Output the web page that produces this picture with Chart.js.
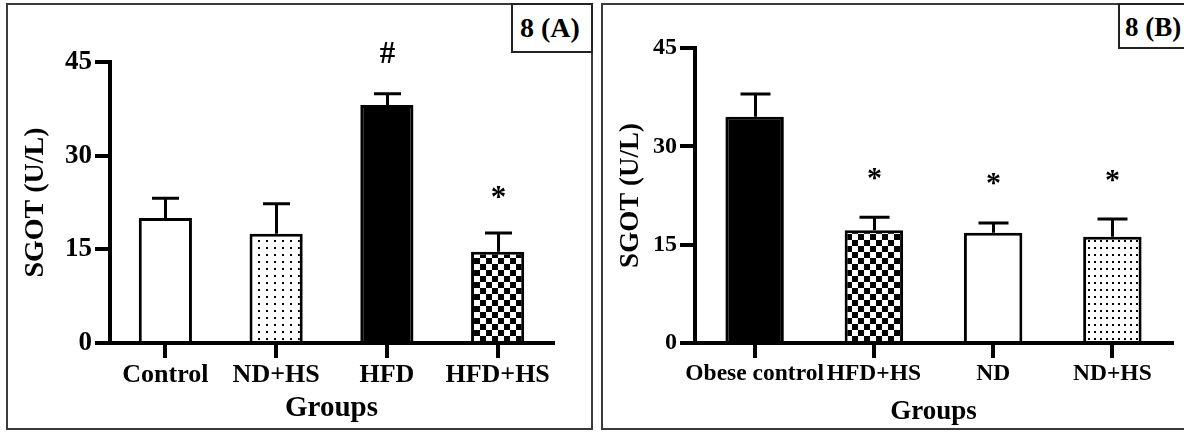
<!DOCTYPE html>
<html>
<head>
<meta charset="utf-8">
<script src="https://cdn.jsdelivr.net/npm/chart.js@4.4.0/dist/chart.umd.min.js"></script>
<style>
body{margin:0;background:#fff;width:1184px;height:433px;overflow:hidden;position:relative;font-family:"Liberation Serif",serif;}
canvas{position:absolute;top:0;}
#chartA{left:0;}
#chartB{left:600px;}
.frame{position:absolute;border:2px solid #3a3a3a;box-sizing:border-box;pointer-events:none;}
.tag{position:absolute;border:2px solid #222;background:#fff;box-sizing:border-box;font-weight:bold;white-space:nowrap;color:#000;}
</style>
</head>
<body>
<canvas id="chartA" width="600" height="433"></canvas>
<canvas id="chartB" width="584" height="433"></canvas>
<div class="frame" style="left:6px;top:3px;width:587px;height:427px"></div>
<div class="frame" style="left:601px;top:3px;width:600px;height:427px"></div>
<div class="tag" style="left:511px;top:3px;width:82px;height:50px;font-size:28px;line-height:46px;padding-left:7px">8 (A)</div>
<div class="tag" style="left:1118px;top:3px;width:90px;height:46px;font-size:27px;line-height:44px;padding-left:5px">8 (B)</div>
<script>
// panel A
var labelsA = ['Control', 'ND+HS', 'HFD', 'HFD+HS'];
var meanA = [20.0, 17.5, 38.1, 14.6];
var semA = [3.2, 4.8, 1.8, 3.0];
var marksA = ['', '', '#', '*'];

// panel B
var labelsB = ['Obese control', 'HFD+HS', 'ND', 'ND+HS'];
var meanB = [34.5, 17.2, 16.8, 16.2];
var semB = [3.5, 2.0, 1.5, 2.7];
var marksB = ['', '*', '*', '*'];

var yTicks = [0, 15, 30, 45];

var FONT = '"Liberation Serif", "Times New Roman", serif';

function makeFill(kind, ctx, dot){
    if(kind == 'white') return '#fff';
    if(kind == 'black') return '#000';
    var c = document.createElement('canvas');
    var g;
    if(kind == 'dots'){
        c.width = dot[0]; c.height = dot[1];
        g = c.getContext('2d');
        g.fillStyle = '#fff'; g.fillRect(0, 0, c.width, c.height);
        g.fillStyle = '#000'; g.fillRect(2, 2, 2, 2);
    } else {
        // checker board
        c.width = 12; c.height = 12;
        g = c.getContext('2d');
        g.fillStyle = '#fff'; g.fillRect(0, 0, 12, 12);
        g.fillStyle = '#000'; g.fillRect(0, 0, 6, 6); g.fillRect(6, 6, 6, 6);
    }
    return ctx.createPattern(c, 'repeat');
}

function errorBars(sem, marks, cap, markSize, markGap){
    return {
        id: 'errorBars',
        afterDatasetsDraw: function(chart){
            var ctx = chart.ctx;
            var y = chart.scales.y;
            var ds = chart.data.datasets[0];
            var meta = chart.getDatasetMeta(0);
            ctx.save();
            ctx.strokeStyle = '#000';
            ctx.lineWidth = 3;
            ctx.fillStyle = '#000';
            ctx.font = 'bold ' + markSize + 'px ' + FONT;
            ctx.textAlign = 'center';
            ctx.textBaseline = 'alphabetic';
            meta.data.forEach(function(bar, i){
                var top = y.getPixelForValue(ds.data[i] + sem[i]);
                var x = Math.round(bar.x) + 0.5;
                ctx.beginPath();
                ctx.moveTo(x, bar.y);
                ctx.lineTo(x, top);
                ctx.moveTo(x - cap / 2, top);
                ctx.lineTo(x + cap / 2, top);
                ctx.stroke();
                if(marks[i]){
                    // glyph centre sits markGap px above the cap
                    var k = marks[i] == '*' ? 0.48 : 0.34;
                    ctx.fillText(marks[i], x, top - markGap + k * markSize);
                }
            });
            ctx.restore();
        }
    };
}

function drawPanel(id, o){
    var ctx = document.getElementById(id).getContext('2d');
    return new Chart(ctx, {
        type: 'bar',
        data: {
            labels: o.labels,
            datasets: [{
                data: o.mean,
                backgroundColor: o.fills.map(function(f){ return makeFill(f, ctx, o.dot); }),
                borderColor: '#000',
                borderWidth: 3,
                barPercentage: 1,
                categoryPercentage: o.barFrac
            }]
        },
        options: {
            responsive: false,
            animation: false,
            devicePixelRatio: 1,
            layout: { padding: { top: o.top, right: o.right, bottom: 0, left: 0 } },
            plugins: {
                legend: { display: false },
                tooltip: { enabled: false }
            },
            scales: {
                x: {
                    offset: true,
                    grid: { display: true, offset: false, drawOnChartArea: false, tickLength: 15, lineWidth: 4, color: '#000' },
                    border: { display: true, color: '#000', width: 4 },
                    ticks: { color: '#000', padding: 2, maxRotation: 0, autoSkip: false, font: { family: FONT, weight: 'bold', size: o.xFont } },
                    title: { display: true, text: 'Groups', color: '#000', padding: { top: 0, bottom: o.xTitlePad }, font: { family: FONT, weight: 'bold', size: o.xTitleFont } },
                    afterFit: function(s){ s.height = 433 - o.bottom; }
                },
                y: {
                    min: 0,
                    max: 45,
                    afterBuildTicks: function(s){ s.ticks = yTicks.map(function(v){ return { value: v }; }); },
                    grid: { display: true, drawOnChartArea: false, tickLength: 15, lineWidth: 4, color: '#000' },
                    border: { display: true, color: '#000', width: 4 },
                    ticks: { color: '#000', padding: 3, font: { family: FONT, weight: 'bold', size: o.yFont } },
                    title: { display: true, text: 'SGOT (U/L)', color: '#000', padding: { top: o.yTitlePad, bottom: 0 }, font: { family: FONT, weight: 'bold', size: o.yTitleFont } },
                    afterFit: function(s){ s.width = o.left; }
                }
            }
        },
        plugins: [errorBars(o.sem, o.marks, o.cap, o.markSize, o.markGap)]
    });
}

drawPanel('chartA', {
    labels: labelsA, mean: meanA, sem: semA, marks: marksA,
    fills: ['white', 'dots', 'black', 'checker'], dot: [8, 7],
    left: 110, top: 62, right: 47, bottom: 343,
    barFrac: 0.48, cap: 27, markSize: 31, markGap: 41,
    xFont: 26, yFont: 27, xTitleFont: 29, yTitleFont: 28,
    xTitlePad: 7, yTitlePad: 19
});

drawPanel('chartB', {
    labels: labelsB, mean: meanB, sem: semB, marks: marksB,
    fills: ['black', 'checker', 'white', 'dots'], dot: [6, 7],
    left: 95, top: 48, right: 12, bottom: 343,
    barFrac: 0.49, cap: 30, markSize: 30, markGap: 45,
    xFont: 23.5, yFont: 24, xTitleFont: 27, yTitleFont: 27,
    xTitlePad: 5, yTitlePad: 15
});
</script>
</body>
</html>
